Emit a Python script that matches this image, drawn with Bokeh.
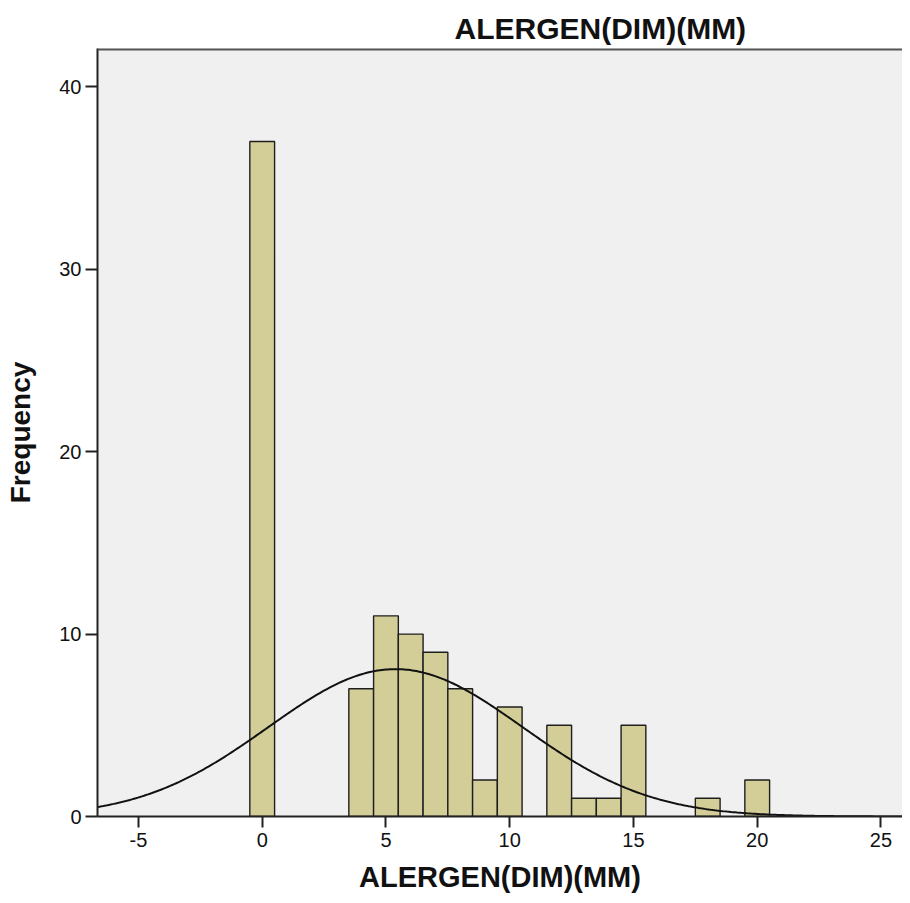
import numpy as np
from bokeh.plotting import figure
from bokeh.models import Range1d, FixedTicker, Span, ColumnDataSource
from bokeh.embed import file_html
from bokeh.resources import INLINE

# --- data ---
bin_centers = [0, 4, 5, 6, 7, 8, 9, 10, 12, 13, 14, 15, 18, 20]
counts = [37, 7, 11, 10, 9, 7, 2, 6, 5, 1, 1, 5, 1, 2]
bin_width = 1.0
x_ticks = [-5, 0, 5, 10, 15, 20, 25]
y_ticks = [0, 10, 20, 30, 40]
title_text = "ALERGEN(DIM)(MM)"
x_label = "ALERGEN(DIM)(MM)"
y_label = "Frequency"

# fitted normal curve (from the histogram's own values)
c = np.array(bin_centers, dtype=float)
n = np.array(counts, dtype=float)
N = n.sum()
mean = (c * n).sum() / N
sd = np.sqrt(((c - mean) ** 2 * n).sum() / (N - 1))

X0, X1 = -6.655, 25.87
Y0, Y1 = 0, 42.1

FONT = "Liberation Sans"

p = figure(width=902, height=895, output_backend="svg", toolbar_location=None,
           x_range=Range1d(X0, X1), y_range=Range1d(Y0, Y1),
           min_border_left=97, min_border_right=0, min_border_top=48, min_border_bottom=79)

p.background_fill_color = "#f0f0f0"
p.border_fill_color = "white"
p.outline_line_color = None
p.grid.visible = False

src = ColumnDataSource(dict(
    left=[v - bin_width / 2 for v in bin_centers],
    right=[v + bin_width / 2 for v in bin_centers],
    top=counts,
    bottom=[0] * len(counts),
))
p.quad(left="left", right="right", top="top", bottom="bottom", source=src,
       fill_color="#d3ce98", line_color="#1e1e1e", line_width=1.4)

xs = np.linspace(X0, X1, 400)
ys = N * bin_width / (sd * np.sqrt(2 * np.pi)) * np.exp(-0.5 * ((xs - mean) / sd) ** 2)
p.line(xs, ys, line_color="#111111", line_width=2)

# top border of the frame
p.add_layout(Span(location=Y1, dimension="width", line_color="#555555", line_width=4))

for ax in (p.xaxis[0], p.yaxis[0]):
    ax.axis_line_color = "#222222"
    ax.axis_line_width = 2
    ax.major_tick_line_color = "#222222"
    ax.major_tick_line_width = 2
    ax.major_tick_in = 0
    ax.minor_tick_line_color = None
    ax.major_label_text_font = FONT
    ax.major_label_text_font_size = "20px"
    ax.major_label_text_color = "#111111"
    ax.axis_label_text_font = FONT
    ax.axis_label_text_font_style = "bold"
    ax.axis_label_text_color = "#111111"

p.xaxis.ticker = FixedTicker(ticks=x_ticks)
p.yaxis.ticker = FixedTicker(ticks=y_ticks)
p.xaxis.major_label_overrides = {t: str(t) for t in x_ticks}
p.xaxis.major_tick_out = 11
p.yaxis.major_tick_out = 12
p.xaxis.major_label_standoff = 5
p.yaxis.major_label_standoff = 4

p.xaxis.axis_label = x_label
p.yaxis.axis_label = y_label
p.xaxis.axis_label_text_font_size = "29px"
p.yaxis.axis_label_text_font_size = "28px"
p.xaxis.axis_label_standoff = 11
p.yaxis.axis_label_standoff = 20

p.title.text = title_text
p.title.text_font = FONT
p.title.text_font_style = "bold"
p.title.text_font_size = "30px"
p.title.text_color = "#111111"
p.title.align = "left"
p.title.offset = 357
p.title.standoff = 8

open("out.html", "w").write(file_html(p, INLINE))
